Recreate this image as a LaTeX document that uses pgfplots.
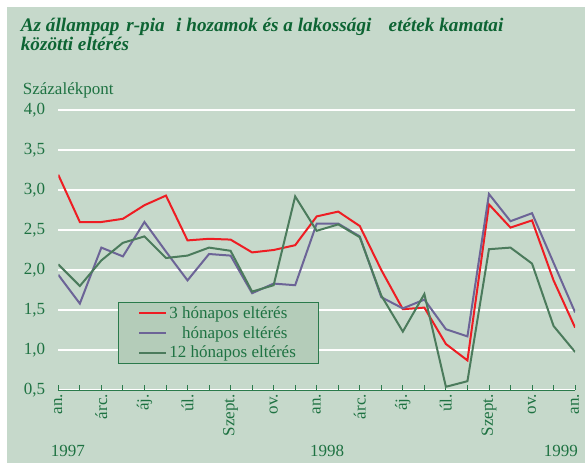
\documentclass[border=0pt]{standalone}
\usepackage{pgfplots}
\pgfplotsset{compat=1.18}
\usepackage{fontspec}
\setmainfont{Liberation Serif}
\definecolor{bgc}{HTML}{C6D9CB}
\definecolor{legbg}{HTML}{B4CCB9}
\definecolor{titlegreen}{HTML}{0D6433}
\definecolor{txtgreen}{HTML}{1E7242}
\definecolor{axgreen}{HTML}{2A7A4B}
\definecolor{cred}{HTML}{EE1D23}
\definecolor{cpurple}{HTML}{6C6497}
\definecolor{cgreen}{HTML}{4B7B5C}
\pgfplotstableread{
i red purple green
0 3.19 1.94 2.07
1 2.60 1.58 1.80
2 2.60 2.28 2.12
3 2.64 2.17 2.34
4 2.81 2.60 2.42
5 2.93 2.23 2.15
6 2.37 1.87 2.18
7 2.39 2.20 2.28
8 2.38 2.18 2.24
9 2.22 1.71 1.73
10 2.25 1.83 1.81
11 2.31 1.81 2.92
12 2.67 2.58 2.49
13 2.73 2.58 2.57
14 2.55 2.42 2.41
15 2.00 1.66 1.68
16 1.51 1.52 1.23
17 1.53 1.63 1.70
18 1.075 1.26 0.54
19 0.87 1.17 0.61
20 2.82 2.95 2.26
21 2.53 2.61 2.28
22 2.62 2.71 2.08
23 1.87 2.09 1.30
24 1.28 1.47 0.975
}\datatable
\begin{document}
\begin{tikzpicture}
\fill[white] (-58.3pt,-73pt) rectangle (526.7pt,390pt);
\fill[bgc] (-51.3pt,-73pt) rectangle (526.7pt,383pt);
\node[anchor=base west, inner sep=0pt, text=titlegreen, font=\fontsize{19.2}{19.2}\selectfont\bfseries\itshape] at (-37.6pt,358pt) {Az állampap\hspace{0.35em}r-pia\hspace{0.6em}i hozamok és a lakossági\hspace{0.9em}etétek kamatai};
\node[anchor=base west, inner sep=0pt, text=titlegreen, font=\fontsize{19.2}{19.2}\selectfont\bfseries\itshape] at (-37.6pt,339.3pt) {közötti eltérés};
\node[anchor=base west, inner sep=0pt, text=txtgreen, font=\fontsize{17}{17}\selectfont] at (-35.6pt,295pt) {Százalékpont};
\node[anchor=base west, inner sep=0pt, text=txtgreen, font=\fontsize{17}{17}\selectfont] at (-7.6pt,-66pt) {1997};
\node[anchor=base, inner sep=0pt, text=txtgreen, font=\fontsize{17}{17}\selectfont] at (268.7pt,-66pt) {1998};
\node[anchor=base east, inner sep=0pt, text=txtgreen, font=\fontsize{17}{17}\selectfont] at (519.7pt,-66pt) {1999};
\begin{axis}[
  at={(0pt,0pt)}, anchor=south west,
  scale only axis, width=516.8pt, height=280pt,
  xmin=0, xmax=24, ymin=0.5, ymax=4.0,
  axis x line*=bottom, axis y line*=left,
  y axis line style={draw=none},
  x axis line style={-, draw=axgreen, line width=0.9pt},
  xtick={0,...,24},
  xticklabels={an.,,árc.,,áj.,,úl.,,Szept.,,ov.,,an.,,árc.,,áj.,,úl.,,Szept.,,ov.,,an.},
  xtick align=inside,
  major tick length=5pt,
  xtick style={draw=axgreen, line width=0.9pt},
  ytick={0.5,1.0,...,4.0},
  ytick style={draw=none},
  ymajorgrids,
  grid style={white, line width=1.2pt},
  /pgf/number format/.cd, use comma, fixed, fixed zerofill, precision=1, assume math mode=true,
  /pgfplots/.cd,
  yticklabel style={anchor=east, inner sep=0pt, xshift=-13pt, text=txtgreen, font=\fontsize{17}{17}\selectfont},
  xticklabel shift=4pt,
  xticklabel style={rotate=90, anchor=east, inner sep=0pt, text=txtgreen, font=\fontsize{17}{17}\selectfont},
  legend style={at={(0.1155,0.314)}, anchor=north west, fill=legbg, draw=axgreen, line width=0.8pt,
     font=\fontsize{17}{17}\selectfont, text=txtgreen, inner xsep=20pt, inner ysep=2pt,
     row sep=2.5pt},
  legend cell align=left,
  legend image code/.code={\draw[#1, line width=2pt] (0pt,0pt) -- (27pt,0pt);},
]
\addplot[cred, line width=2pt] table[x=i, y=red] {\datatable};
\addlegendentry{3 hónapos eltérés}
\addplot[cpurple, line width=2pt] table[x=i, y=purple] {\datatable};
\addlegendentry{\phantom{6} hónapos eltérés}
\addplot[cgreen, line width=2pt] table[x=i, y=green] {\datatable};
\addlegendentry{12 hónapos eltérés}
\end{axis}
\end{tikzpicture}
\end{document}
